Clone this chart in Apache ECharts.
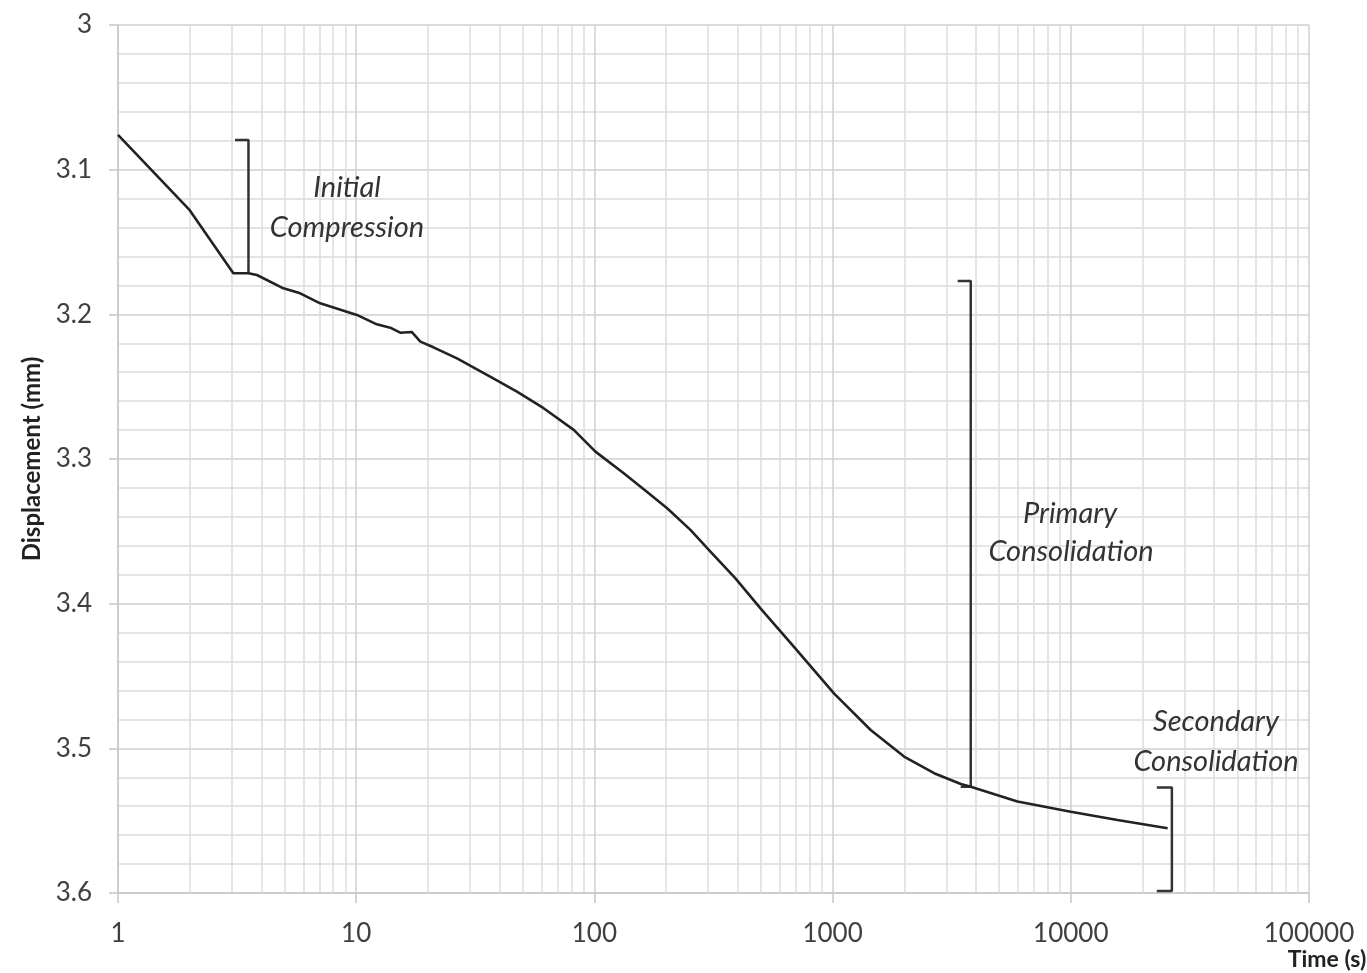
<!DOCTYPE html>
<html>
<head>
<meta charset="utf-8">
<script src="https://cdn.jsdelivr.net/npm/echarts@6/dist/echarts.min.js"></script>
<style>
html,body{margin:0;padding:0;background:#fff;}
#chart{width:1367px;height:973px;}
</style>
</head>
<body>
<div id="chart"></div>
<script>
// ---- data ----
const timeData = [1, 2, 3.05, 3.53, 3.83, 4.95, 5.82, 7.06, 10.07, 12.2, 13.9, 15.3, 17.1, 18.6, 21.1, 26.5, 36.5, 47.3, 61.2, 81.9, 101, 132.8, 166, 202, 253, 307, 391, 498, 687, 1013, 1445, 1995, 2668, 3454, 3802, 5970, 10000, 15700, 25500];
const dispData = [3.076, 3.128, 3.1716, 3.1716, 3.1728, 3.182, 3.1855, 3.1924, 3.2004, 3.2069, 3.2092, 3.2127, 3.2122, 3.2189, 3.2228, 3.2304, 3.2431, 3.2535, 3.2649, 3.2799, 3.2949, 3.3099, 3.3226, 3.334, 3.349, 3.364, 3.3825, 3.4032, 3.4297, 3.462, 3.4873, 3.5057, 3.5172, 3.5246, 3.5265, 3.5368, 3.5438, 3.5495, 3.5553];

// bracket outlines [time, displacement]
const bracketInitial = [[3.1, 3.0795], [3.53, 3.0795], [3.53, 3.1716]];
const bracketPrimary = [[3350, 3.177], [3802, 3.177], [3802, 3.5265], [3450, 3.5265]];
const bracketSecondary = [[22960, 3.527], [26570, 3.527], [26570, 3.5986], [22960, 3.5986]];

const xTickLabels = ['1', '10', '100', '1000', '10000', '100000'];
const yTickLabels = ['3', '3.1', '3.2', '3.3', '3.4', '3.5', '3.6'];
const xAxisTitle = 'Time (s)';
const yAxisTitle = 'Displacement (mm)';

const annotations = [
  {lines: ['Initial', 'Compression']},
  {lines: ['Primary', 'Consolidation']},
  {lines: ['Secondary', 'Consolidation']}
];

// minor log grid lines (2..9 of each decade)
const minorX = [];
for (let d = 1; d < 100000; d *= 10) {
  for (let k = 2; k <= 9; k++) minorX.push(d * k);
}

const FONT = 'Lato';
const chart = echarts.init(document.getElementById('chart'));

const annPos = [
  [[347, 188], [347, 228]],
  [[1070, 514], [1071, 552]],
  [[1216, 722], [1216, 762]]
];
const graphics = [];
annotations.forEach((a, i) => {
  a.lines.forEach((txt, j) => {
    graphics.push({
      type: 'text', z: 100,
      x: annPos[i][j][0], y: annPos[i][j][1],
      style: {
        text: txt, fontFamily: FONT, fontStyle: 'italic', fontSize: 29,
        fill: '#333', textAlign: 'center', textVerticalAlign: 'middle'
      }
    });
  });
});
graphics.push({
  type: 'text', z: 100, x: 1327, y: 960,
  style: {text: xAxisTitle, fontFamily: FONT, fontWeight: 'bold', fontSize: 23,
    fill: '#222', textAlign: 'center', textVerticalAlign: 'middle'}
});

const bracketStyle = {color: '#333', width: 2.5};
function bracketSeries(data) {
  return {type: 'line', data: data, showSymbol: false, symbol: 'none', silent: true,
    lineStyle: bracketStyle, z: 4, animation: false};
}

chart.setOption({
  animation: false,
  backgroundColor: '#fff',
  grid: {left: 118, right: 58, top: 25, bottom: 80, containLabel: false, outerBoundsMode: 'none'},
  xAxis: {
    type: 'log', logBase: 10, min: 1, max: 100000,
    axisLine: {show: true, lineStyle: {color: '#c8c8c8', width: 1.5}},
    axisTick: {show: true, length: 10, lineStyle: {color: '#c8c8c8', width: 1.5}},
    axisLabel: {fontFamily: FONT, fontSize: 26, color: '#404040', margin: 28,
      formatter: v => xTickLabels[Math.round(Math.log10(v))]},
    splitLine: {show: true, lineStyle: {color: '#cfcfcf', width: 1.5}}
  },
  yAxis: {
    type: 'value', inverse: true, min: 3, max: 3.6, interval: 0.1,
    name: yAxisTitle, nameLocation: 'middle', nameGap: 74,
    nameTextStyle: {fontFamily: FONT, fontWeight: 'bold', fontSize: 24, color: '#222'},
    axisLine: {show: true, lineStyle: {color: '#c8c8c8', width: 1.5}},
    axisTick: {show: true, length: 9, lineStyle: {color: '#c8c8c8', width: 1.5}},
    axisLabel: {fontFamily: FONT, fontSize: 26, color: '#404040', margin: 26,
      formatter: v => yTickLabels[Math.round((v - 3) * 10)]},
    splitLine: {show: true, lineStyle: {color: '#cfcfcf', width: 1.5}},
    minorTick: {show: false, splitNumber: 5},
    minorSplitLine: {show: true, lineStyle: {color: '#dcdcdc', width: 1.5}}
  },
  graphic: graphics,
  series: [
    {
      type: 'line', data: [], silent: true, z: 1,
      markLine: {
        silent: true, symbol: 'none', animation: false,
        label: {show: false},
        lineStyle: {color: '#dcdcdc', width: 1.5, type: 'solid'},
        data: minorX.map(v => ({xAxis: v}))
      }
    },
    {
      type: 'line', name: 'Displacement',
      data: timeData.map((t, i) => [t, dispData[i]]),
      showSymbol: false, symbol: 'none', smooth: false, z: 5,
      lineStyle: {color: '#222', width: 2.6}
    },
    bracketSeries(bracketInitial),
    bracketSeries(bracketPrimary),
    bracketSeries(bracketSecondary)
  ]
});
</script>
</body>
</html>
